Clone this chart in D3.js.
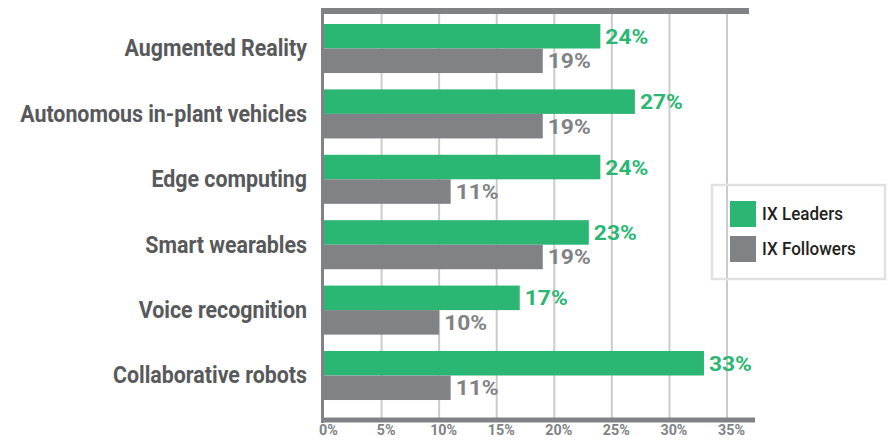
<!DOCTYPE html>
<html>
<head>
<meta charset="utf-8">
<script src="https://cdn.jsdelivr.net/npm/d3@7"></script>
<style>
  body { margin: 0; background: #fff; }
  svg text { font-family: "Roboto", "Liberation Sans", sans-serif; }
</style>
</head>
<body>
<div id="chart"></div>
<script>
// chart values
var categories = ["Augmented Reality", "Autonomous in-plant vehicles", "Edge computing",
                  "Smart wearables", "Voice recognition", "Collaborative robots"];
var leaders = [24, 27, 24, 23, 17, 33];
var followers = [19, 19, 11, 19, 10, 11];
var seriesNames = ["IX Leaders", "IX Followers"];
var xTicks = [0, 5, 10, 15, 20, 25, 30, 35];

var green = "#2bb673", grey = "#808285", darkText = "#58595b";

var width = 888, height = 440;
var svg = d3.select("#chart").append("svg")
   .attr("width", width).attr("height", height);

// squeeze text horizontally so Roboto looks like the condensed face of the original
// (k picked by measuring one sample text against its width in the picture)
function condense(sel, sampleText, targetWidth) {
   var probe = sel.filter(function(){ return this.textContent == sampleText; }).node();
   var k = targetWidth / probe.getComputedTextLength();
   sel.each(function(){
      var t = d3.select(this);
      t.attr("x", +t.attr("x") / k).attr("transform", "scale(" + k + ",1)");
   });
}

// scales
var x = d3.scaleLinear().domain([0, 35]).range([324, 727]);
var y = d3.scaleBand().domain(categories).range([15.8, 408.2])
   .paddingInner(0.25).paddingOuter(0.125);
var ySub = d3.scaleBand().domain(seriesNames).range([0, y.bandwidth()]);

var rows = categories.map(function(c, i) {
   return {cat: c, vals: [{s: seriesNames[0], v: leaders[i]}, {s: seriesNames[1], v: followers[i]}]};
});

// grid lines
svg.append("g").attr("class", "grid-lines")
   .selectAll("line").data(xTicks.slice(1)).enter()
   .append("line")
   .attr("x1", function(d){ return x(d); }).attr("x2", function(d){ return x(d); })
   .attr("y1", 14).attr("y2", 418)
   .attr("stroke", "#cccccc").attr("stroke-width", 2);

// bars
var groups = svg.append("g").selectAll("g").data(rows).enter()
   .append("g").attr("transform", function(d){ return "translate(0," + y(d.cat) + ")"; });

groups.selectAll("rect").data(function(d){ return d.vals; }).enter()
   .append("rect")
   .attr("x", x(0))
   .attr("y", function(d){ return ySub(d.s); })
   .attr("width", function(d){ return x(d.v) - x(0); })
   .attr("height", ySub.bandwidth())
   .attr("fill", function(d){ return d.s == seriesNames[0] ? green : grey; });

groups.selectAll("text.val").data(function(d){ return d.vals; }).enter()
   .append("text").attr("class", "val")
   .attr("x", function(d){ return x(d.v) + 5; })
   .attr("y", function(d){ return ySub(d.s) + ySub.bandwidth() / 2 + 7.5; })
   .attr("fill", function(d){ return d.s == seriesNames[0] ? green : grey; })
   .style("font-size", "21px").style("font-weight", "bold")
   .text(function(d){ return d.v + "%"; });
condense(svg.selectAll("text.val"), "24%", 43);

// category labels
var catLabels = svg.append("g").selectAll("text").data(categories).enter()
   .append("text")
   .attr("x", 307)
   .attr("y", function(d){ return y(d) + y.bandwidth() / 2 + 8; })
   .attr("text-anchor", "end")
   .attr("fill", darkText)
   .style("font-size", "23px").style("font-weight", "bold")
   .text(function(d){ return d; });
condense(catLabels, "Autonomous in-plant vehicles", 287);

// frame lines: top, left, bottom
svg.append("line").attr("x1", 321).attr("x2", 749).attr("y1", 11).attr("y2", 11)
   .attr("stroke", grey).attr("stroke-width", 6);
svg.append("line").attr("x1", 322.5).attr("x2", 322.5).attr("y1", 8).attr("y2", 423)
   .attr("stroke", grey).attr("stroke-width", 3);
svg.append("line").attr("x1", 321).attr("x2", 755).attr("y1", 420).attr("y2", 420)
   .attr("stroke", grey).attr("stroke-width", 5);

// x axis labels
var xAxis = d3.axisBottom(x).tickValues(xTicks).tickSize(0)
   .tickFormat(function(d){ return d + "%"; });
var gx = svg.append("g").attr("transform", "translate(4,0)").call(xAxis);
gx.select(".domain").remove();
gx.selectAll(".tick text")
   .attr("y", 435.5).attr("dy", null)
   .attr("fill", grey)
   .style("font-size", "15.5px").style("font-weight", "bold")
   .style("font-family", "Roboto, sans-serif");
condense(gx.selectAll(".tick text"), "10%", 27);

// legend
var legend = svg.append("g").attr("class", "legend");
legend.append("rect")
   .attr("x", 712).attr("y", 185).attr("width", 173).attr("height", 94)
   .attr("fill", "none").attr("stroke", "#e1e1e1").attr("stroke-width", 2.5);
var items = legend.selectAll("g.item").data(seriesNames).enter()
   .append("g").attr("class", "item")
   .attr("transform", function(d, i){ return "translate(730," + (201 + i * 35) + ")"; });
items.append("rect").attr("width", 26).attr("height", 26)
   .attr("fill", function(d, i){ return i == 0 ? green : grey; });
var legText = items.append("text").attr("x", 32).attr("y", 19.5)
   .attr("fill", "#231f20")
   .style("font-size", "18px").style("font-weight", 500)
   .text(function(d){ return d; });
condense(legText, "IX Leaders", 81);
</script>
</body>
</html>
